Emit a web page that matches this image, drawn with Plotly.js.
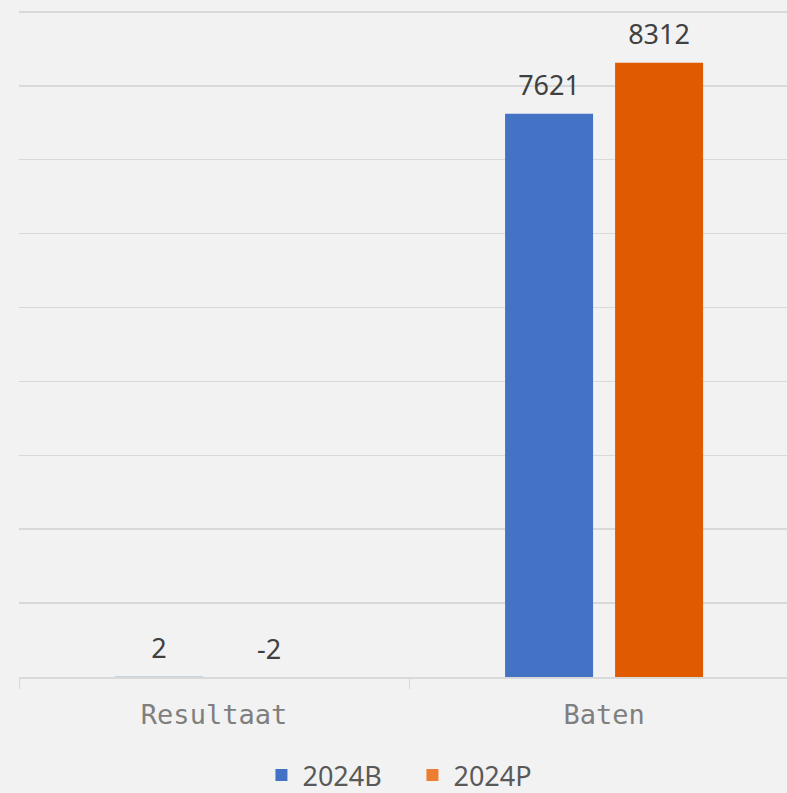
<!DOCTYPE html>
<html>
<head>
<meta charset="utf-8">
<script src="https://cdn.plot.ly/plotly-3.0.1.min.js"></script>
<style>html,body{margin:0;padding:0;background:#f2f2f2;}#chart{width:787px;height:793px;}</style>
</head>
<body>
<div id="chart"></div>
<script>
const categories = ["Resultaat", "Baten"];
const series2024B = [2, 7621];
const series2024P = [-2, 8312];
const seriesNames = ["2024B", "2024P"];
const colorB = "#4472C4";
const colorsP = ["#ED7D31", "#E05A00"];

const labelFont = {family: "Noto Sans, Open Sans, sans-serif", size: 27, color: "#404040"};

const traces = [
  {type: "bar", name: seriesNames[0], x: categories, y: series2024B,
   marker: {color: colorB}, hoverinfo: "skip"},
  {type: "bar", name: seriesNames[1], x: categories, y: series2024P,
   marker: {color: colorsP}, hoverinfo: "skip"},
  {type: "bar", showlegend: false, xaxis: "x2", yaxis: "y2", x: categories,
   y: series2024B.map(v => Math.max(v, 0)), text: series2024B.map(String),
   textposition: "outside", cliponaxis: false, textfont: labelFont,
   marker: {color: "rgba(0,0,0,0)"}, hoverinfo: "skip"},
  {type: "bar", showlegend: false, xaxis: "x2", yaxis: "y2", x: categories,
   y: series2024P.map(v => Math.max(v, 0)), text: series2024P.map(String),
   textposition: "outside", cliponaxis: false, textfont: labelFont,
   marker: {color: "rgba(0,0,0,0)"}, hoverinfo: "skip"}
];

const xr = [-0.5, 1.469];
const layout = {
  width: 787, height: 793,
  paper_bgcolor: "#f2f2f2", plot_bgcolor: "#f2f2f2",
  margin: {l: 19, r: 0, t: 9, b: 116, autoexpand: false},
  barmode: "group", bargap: 0.436, bargroupgap: 0.2,
  showlegend: true,
  legend: {orientation: "h", x: 0.511, xanchor: "center", yref: "container", y: 0.022, yanchor: "middle",
           font: {family: "Noto Sans, Open Sans, sans-serif", size: 27, color: "#595959"},
           itemwidth: 32, entrywidth: 104, entrywidthmode: "pixels",
           traceorder: "normal", bgcolor: "rgba(0,0,0,0)"},
  xaxis: {type: "category", range: xr, showgrid: false, zeroline: false,
          showline: true, linecolor: "#d9d9d9", linewidth: 1.5,
          ticks: "outside", tickson: "boundaries", ticklen: 10, tickcolor: "#d9d9d9",
          tickfont: {family: "DejaVu Sans Mono, monospace", size: 27, color: "#7f7f7f"},
          ticklabelstandoff: 13, fixedrange: true},
  yaxis: {range: [0, 9040], dtick: 1000, showticklabels: false, showgrid: true,
          gridcolor: "#d9d9d9", gridwidth: 1.5, zeroline: false, showline: false, fixedrange: true},
  xaxis2: {type: "category", overlaying: "x", range: xr, visible: false},
  yaxis2: {overlaying: "y", range: [-100, 8940], visible: false},
  font: {family: "Noto Sans, sans-serif"}
};

Plotly.newPlot("chart", traces, layout, {displayModeBar: false, staticPlot: true});
</script>
</body>
</html>
